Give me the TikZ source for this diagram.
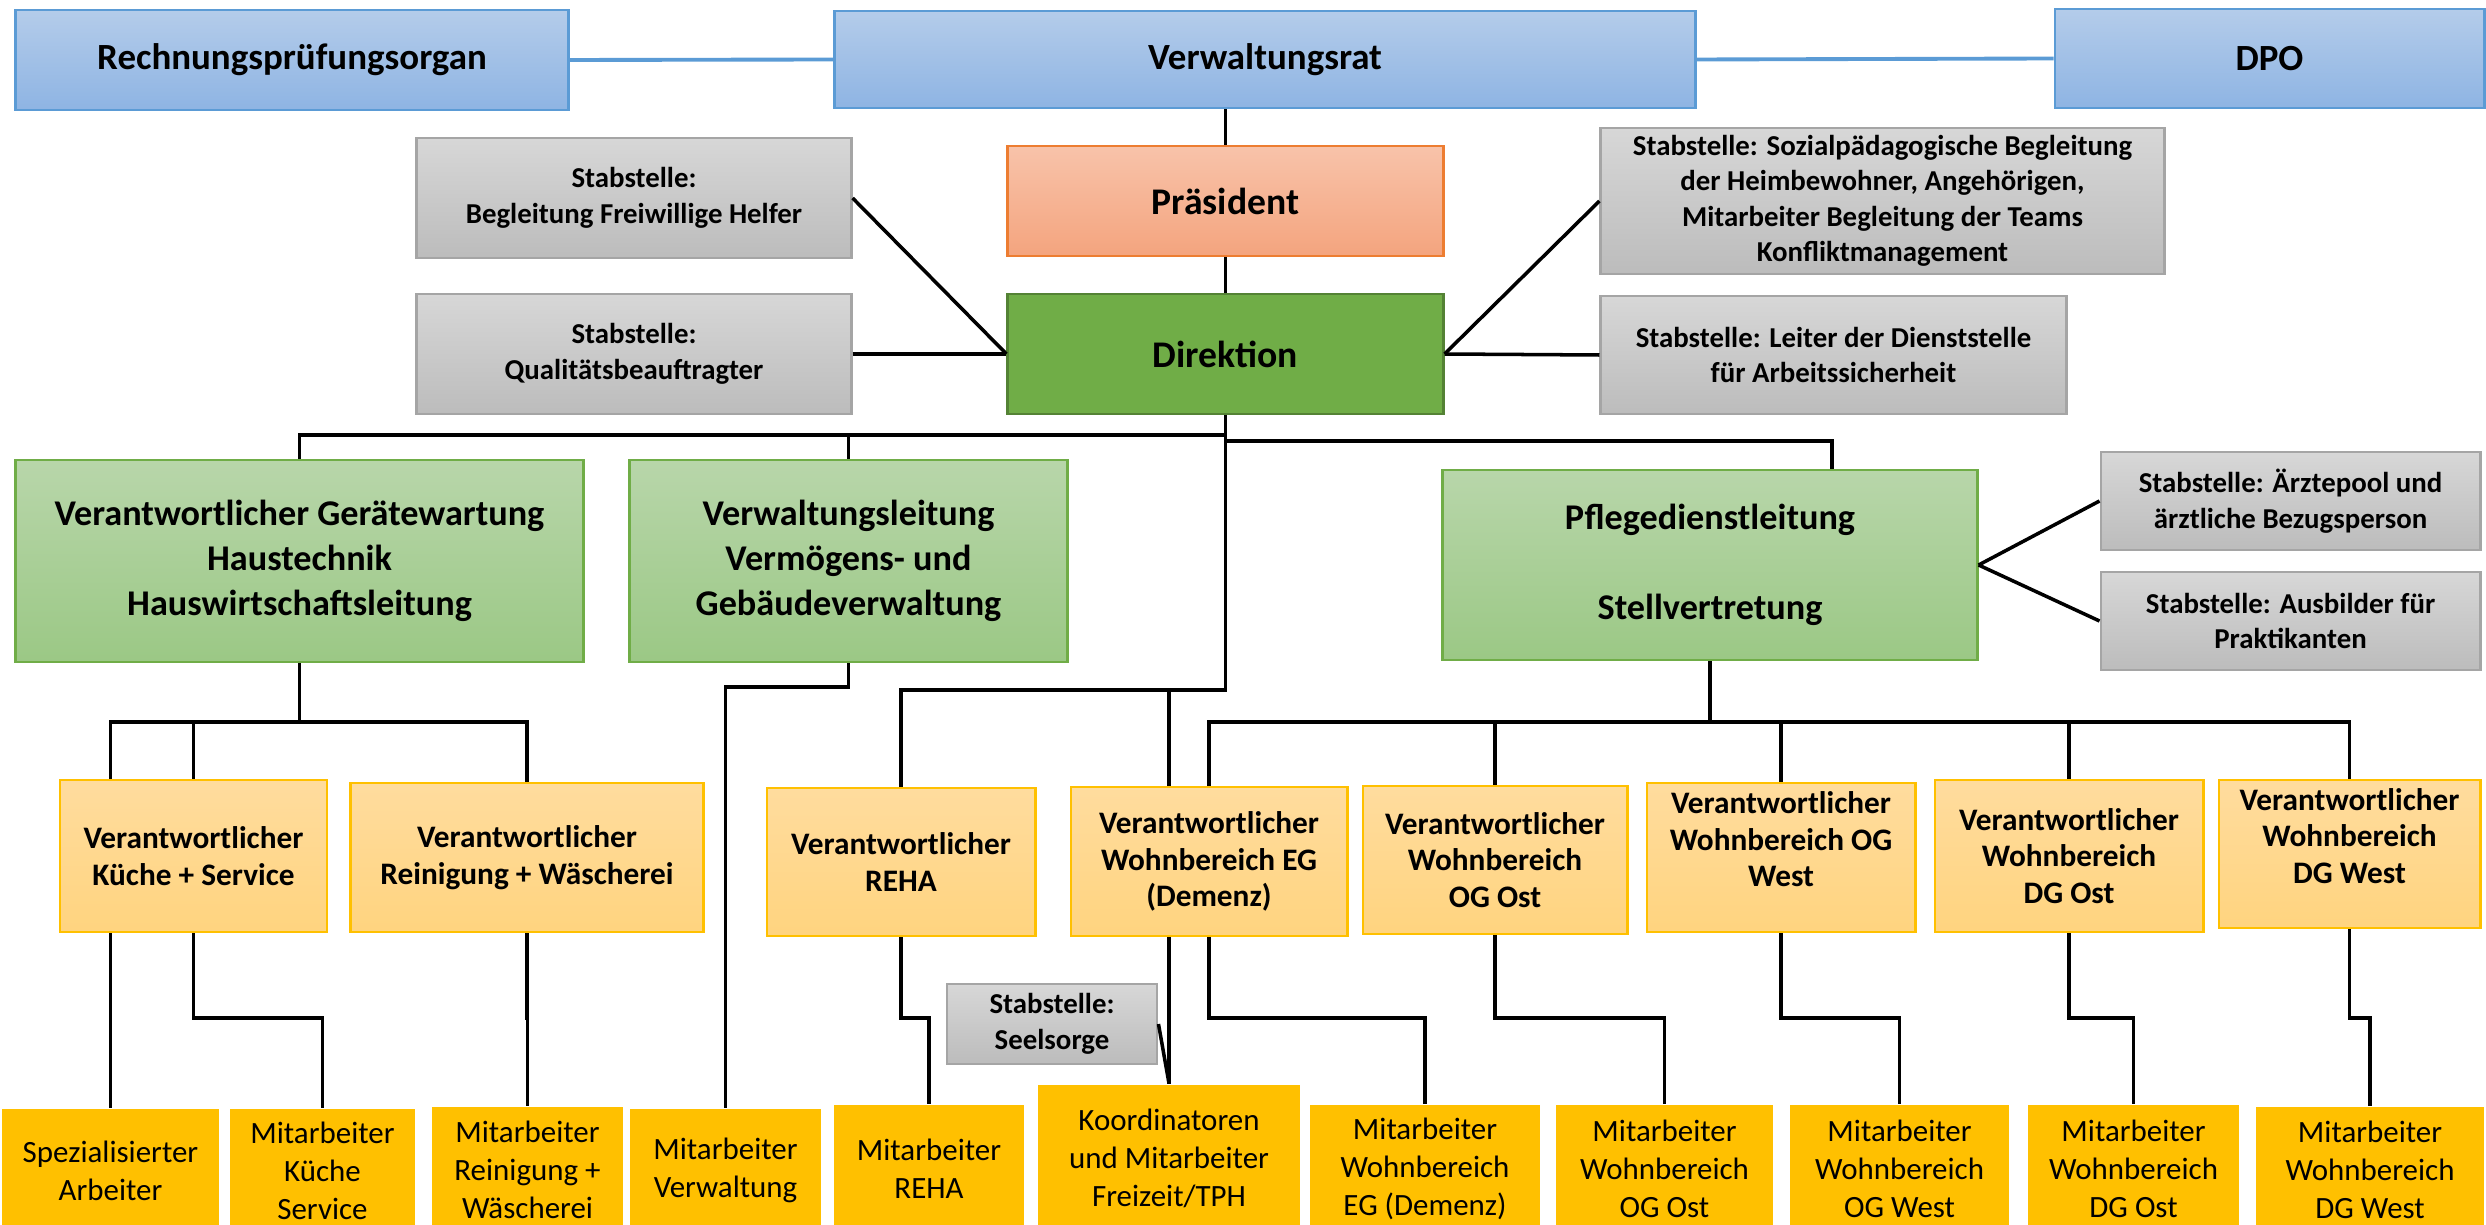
\documentclass[tikz,border=0pt]{standalone}
\usepackage{fontspec}
\setmainfont{Carlito}
\usetikzlibrary{positioning}

\definecolor{ratTop}{HTML}{B4CCEA}
\definecolor{ratBot}{HTML}{8EB4E3}
\definecolor{ratLine}{HTML}{5B9BD5}
\definecolor{stabTop}{HTML}{D7D7D7}
\definecolor{stabBot}{HTML}{BCBCBC}
\definecolor{stabLine}{HTML}{A5A5A5}
\definecolor{praesTop}{HTML}{F8C3AA}
\definecolor{praesBot}{HTML}{F4A47E}
\definecolor{praesLine}{HTML}{ED7D31}
\definecolor{direkFill}{HTML}{70AD47}
\definecolor{direkLine}{HTML}{548235}
\definecolor{leitTop}{HTML}{B8D6AA}
\definecolor{leitBot}{HTML}{9BC885}
\definecolor{leitLine}{HTML}{70AD47}
\definecolor{verantTop}{HTML}{FFDC9E}
\definecolor{verantBot}{HTML}{FFD47F}
\definecolor{gold}{HTML}{FFC000}

\tikzset{
  box/.style={line width=0.8pt, align=center, inner sep=1pt},
  ratbox/.style={box, draw=ratLine, top color=ratTop, bottom color=ratBot,
    font=\bfseries\fontsize{10.5}{12.6}\selectfont},
  stabbox/.style={box, draw=stabLine, top color=stabTop, bottom color=stabBot,
    font=\bfseries\fontsize{8.2}{10.1}\selectfont},
  praesbox/.style={box, draw=praesLine, top color=praesTop, bottom color=praesBot,
    font=\bfseries\fontsize{10.7}{12.8}\selectfont},
  direkbox/.style={box, draw=direkLine, fill=direkFill,
    font=\bfseries\fontsize{10.7}{12.8}\selectfont},
  leitbox/.style={box, draw=leitLine, top color=leitTop, bottom color=leitBot,
    font=\bfseries\fontsize{10.3}{12.8}\selectfont},
  verantbox/.style={box, draw=gold, top color=verantTop, bottom color=verantBot,
    font=\bfseries\fontsize{8.9}{10.4}\selectfont},
  mitbox/.style={box, fill=gold, font=\fontsize{8.8}{10.8}\selectfont},
  conn/.style={line width=1pt, black},
  ratline/.style={line width=1.1pt, ratLine}
}

\begin{document}
\begin{tikzpicture}[x=0.01cm, y=-0.01cm]
\useasboundingbox (0,0) rectangle (2486,1225);
\clip (0,0) rectangle (2486,1225);

\node[ratbox, minimum width=5.52cm, minimum height=1cm] (rpo) at (292,60) {Rechnungsprüfungsorgan};
\node[ratbox, minimum width=8.6cm, minimum height=0.97cm] (vr) at (1265,59.5) {Verwaltungsrat};
\node[ratbox, minimum width=4.29cm, minimum height=0.99cm] (dpo) at (2269.5,58.5) {DPO};

\node[stabbox, minimum width=4.34cm, minimum height=1.2cm] (sFH) at (634,198) {Stabstelle:\\Begleitung Freiwillige Helfer};
\node[stabbox, minimum width=4.34cm, minimum height=1.2cm] (sQB) at (634,354) {Stabstelle:\\Qualitätsbeauftragter};
\node[praesbox, minimum width=4.35cm, minimum height=1.1cm] (praes) at (1225.5,201) {Präsident};
\node[direkbox, minimum width=4.35cm, minimum height=1.2cm] (dir) at (1225.5,354) {Direktion};
\node[stabbox, minimum width=5.63cm, minimum height=1.46cm] (sSP) at (1882.5,201) {Stabstelle: Sozialpädagogische Begleitung\\der Heimbewohner, Angehörigen,\\Mitarbeiter Begleitung der Teams\\Konfliktmanagement};
\node[stabbox, minimum width=4.65cm, minimum height=1.18cm] (sAS) at (1833.5,355) {Stabstelle: Leiter der Dienststelle\\für Arbeitssicherheit};

\node[leitbox, minimum width=5.67cm, minimum height=2.02cm] (vg) at (299.5,561) {Verantwortlicher Gerätewartung\\Haustechnik\\Hauswirtschaftsleitung};
\node[leitbox, minimum width=4.37cm, minimum height=2.02cm] (vl) at (848.5,561) {Verwaltungsleitung\\Vermögens- und\\Gebäudeverwaltung};
\node[leitbox, minimum width=5.34cm, minimum height=1.9cm] (pdl) at (1710,565) {Pflegedienstleitung\\[12.8pt]Stellvertretung};
\node[stabbox, minimum width=3.79cm, minimum height=0.98cm] (sAP) at (2290.5,501) {Stabstelle: Ärztepool und\\ärztliche Bezugsperson};
\node[stabbox, minimum width=3.79cm, minimum height=0.98cm] (sAB) at (2290.5,621) {Stabstelle: Ausbilder für\\Praktikanten};

\node[verantbox, minimum width=2.67cm, minimum height=1.52cm] (vKS) at (193.5,856) {Verantwortlicher\\Küche + Service};
\node[verantbox, minimum width=3.52cm, minimum height=1.49cm] (vRW) at (527,857.5) {Verantwortlicher\\Reinigung + Wäscherei};
\node[verantbox, minimum width=2.68cm, minimum height=1.48cm] (vREHA) at (901,862) {Verantwortlicher\\REHA};
\node[verantbox, minimum width=2.76cm, minimum height=1.49cm] (vEG) at (1209,861.5) {Verantwortlicher\\Wohnbereich EG\\(Demenz)};
\node[verantbox, minimum width=2.64cm, minimum height=1.48cm] (vOGO) at (1495,860) {Verantwortlicher\\Wohnbereich\\OG Ost};
\node[verantbox, minimum width=2.68cm, minimum height=1.49cm] (vOGW) at (1781,857.5) {Verantwortlicher\\Wohnbereich OG\\West\\\mbox{}};
\node[verantbox, minimum width=2.68cm, minimum height=1.52cm] (vDGO) at (2069,856) {Verantwortlicher\\Wohnbereich\\DG Ost};
\node[verantbox, minimum width=2.61cm, minimum height=1.48cm] (vDGW) at (2349.5,854) {Verantwortlicher\\Wohnbereich\\DG West\\\mbox{}};

\node[stabbox, minimum width=2.1cm, minimum height=0.8cm] (sSS) at (1052,1024) {Stabstelle:\\Seelsorge};

\node[mitbox, minimum width=2.17cm, minimum height=1.23cm] (mSA) at (110.5,1170.5) {Spezialisierter\\Arbeiter};
\node[mitbox, minimum width=1.85cm, minimum height=1.23cm] (mKS) at (322.5,1170.5) {Mitarbeiter\\Küche\\Service};
\node[mitbox, minimum width=1.91cm, minimum height=1.25cm] (mRW) at (527.5,1169.5) {Mitarbeiter\\Reinigung +\\Wäscherei};
\node[mitbox, minimum width=1.91cm, minimum height=1.23cm] (mV) at (725.5,1170.5) {Mitarbeiter\\Verwaltung};
\node[mitbox, minimum width=1.90cm, minimum height=1.27cm] (mREHA) at (929,1168.5) {Mitarbeiter\\REHA};
\node[mitbox, minimum width=2.62cm, minimum height=1.47cm] (mKO) at (1169,1158.5) {Koordinatoren\\und Mitarbeiter\\Freizeit/TPH};
\node[mitbox, minimum width=2.30cm, minimum height=1.27cm] (mEG) at (1425,1168.5) {Mitarbeiter\\Wohnbereich\\EG (Demenz)};
\node[mitbox, minimum width=2.17cm, minimum height=1.27cm] (mOGO) at (1664.5,1168.5) {Mitarbeiter\\Wohnbereich\\OG Ost};
\node[mitbox, minimum width=2.19cm, minimum height=1.27cm] (mOGW) at (1899.5,1168.5) {Mitarbeiter\\Wohnbereich\\OG West};
\node[mitbox, minimum width=2.11cm, minimum height=1.27cm] (mDGO) at (2133.5,1168.5) {Mitarbeiter\\Wohnbereich\\DG Ost};
\node[mitbox, minimum width=2.28cm, minimum height=1.25cm] (mDGW) at (2370,1169.5) {Mitarbeiter\\Wohnbereich\\DG West};

\coordinate (dbl) at (0,435);
\coordinate (dbr) at (1832,441);
\coordinate (dirbus) at (0,690);
\coordinate (vlbus) at (0,687);
\coordinate (vgbus) at (0,722);
\coordinate (pbus) at (0,722);
\coordinate (mlvl) at (0,1018);

\draw[ratline] (rpo.east) -- (vr.west);
\draw[ratline] (vr.east) -- (dpo.west);

\draw[conn] (praes.north |- vr.south) -- (praes.north);
\draw[conn] (praes.south) -- (dir.north);
\draw[conn] (sFH.east) -- (dir.west);
\draw[conn] (sQB.east) -- (dir.west);
\draw[conn] (dir.east) -- (sSP.west);
\draw[conn] (dir.east) -- (sAS.west);

\draw[conn] (dir.south) |- (dbl -| vg.north) -- (vg.north);
\draw[conn] (vl.north) -- (vl.north |- dbl);
\draw[conn] (dir.south |- dbl) |- (dbr) -- (dbr |- pdl.north);
\draw[conn] (pdl.east) -- (sAP.west);
\draw[conn] (pdl.east) -- (sAB.west);

\draw[conn] (vg.south) -- (vg.south |- vgbus);
\draw[conn] (vKS.north -| mSA.north) |- (vgbus -| vRW.north) -- (vRW.north);
\draw[conn] (vKS.north) -- (vKS.north |- vgbus);
\draw[conn] (vKS.south -| mSA.north) -- (mSA.north);

\draw[conn] (vl.south) |- (vlbus -| mV.north) -- (mV.north);

\draw[conn] (dir.south) -- (dir.south |- dirbus) -| (vREHA.north);
\draw[conn] (mKO.north |- dirbus) -- (mKO.north |- vEG.north);
\draw[conn] (mKO.north |- vEG.south) -- (mKO.north);
\draw[conn] (sSS.east) -- (mKO.north);

\draw[conn] (pdl.south) -- (pdl.south |- pbus);
\draw[conn] (vEG.north) |- (pbus -| vDGW.north) -- (vDGW.north);
\foreach \v in {vOGO, vOGW, vDGO}
  \draw[conn] (\v.north) -- (\v.north |- pbus);

\foreach \v/\m in {vKS/mKS, vRW/mRW, vREHA/mREHA, vEG/mEG, vOGO/mOGO, vOGW/mOGW, vDGO/mDGO, vDGW/mDGW}
  \draw[conn] (\v.south) |- (mlvl -| \m.north) -- (\m.north);
\end{tikzpicture}
\end{document}
